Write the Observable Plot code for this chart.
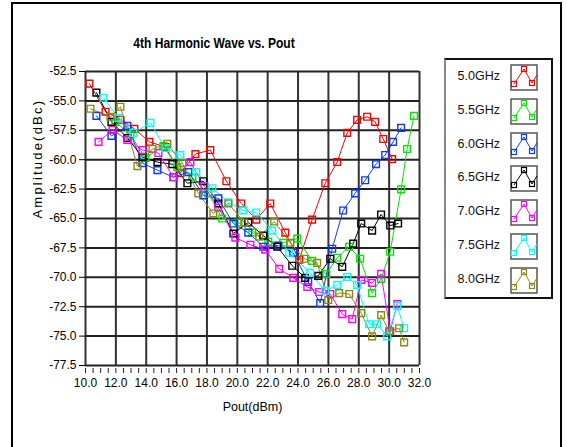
<!DOCTYPE html>
<html><head><meta charset="utf-8">
<script src="https://cdn.jsdelivr.net/npm/d3@7"></script>
<script src="https://cdn.jsdelivr.net/npm/@observablehq/plot@0.6"></script>
<style>
body{margin:0;background:#fff;font-family:"Liberation Sans",Arial,sans-serif;}
#wrap{position:relative;width:567px;height:447px;overflow:hidden;background:#fff;}
#frame{position:absolute;left:11px;top:2px;width:547px;height:470px;border:2px solid #000;}
#title{position:absolute;left:104px;width:220px;top:35px;text-align:center;font-family:"Liberation Sans",Arial,sans-serif;font-weight:bold;font-size:14.5px;color:#000;transform:scaleX(0.83);transform-origin:110px 0;}
#chart{position:absolute;left:0;top:0;}
#legend{position:absolute;left:444px;top:58px;width:105px;height:237px;border:2px solid #111;border-left-color:#888;background:#fff;}
.lg{position:absolute;left:0;width:104px;height:28px;}
.lg span{position:absolute;right:50px;top:5px;font-size:12.5px;color:#111;}
.lg svg{position:absolute;left:64px;top:0;}
</style></head>
<body>
<div id="wrap">
<div id="frame"></div>
<div id="title">4th Harmonic Wave vs. Pout</div>
<div id="chart"></div>
<div id="legend"></div>
</div>
<script>
const series = ["5.0GHz","5.5GHz","6.0GHz","6.5GHz","7.0GHz","7.5GHz","8.0GHz"];
const colors = ["#ff0000","#00e600","#1038ff","#000000","#ff00ff","#00ffff","#8a8a12"];
const xTickLabels = [10,12,14,16,18,20,22,24,26,28,30,32];
const yTickLabels = [-77.5,-75,-72.5,-70,-67.5,-65,-62.5,-60,-57.5,-55,-52.5];

const pout50 = [10.26,11.32,12.3,13.22,14.21,15.26,16.25,17.24,18.22,19.28,20.26,21.25,22.17,23.16,24.08,24.93,25.79,26.58,27.24,27.89,28.55,29.08,29.61,30.2];
const amp50  = [-53.53,-55.92,-56.6,-57.38,-58.49,-58.92,-61.15,-59.52,-59.18,-61.83,-63.72,-65.09,-63.72,-66.2,-68.51,-65.09,-62.0,-60.2,-57.72,-56.61,-56.35,-56.78,-58.24,-59.95];

const pout55 = [11.97,12.96,13.95,15.13,16.05,17.04,18.09,19.01,20.07,20.99,22.04,23.03,23.95,24.93,25.86,26.58,27.37,28.09,28.88,29.47,30.07,30.79,31.18,31.64];
const amp55  = [-56.78,-57.89,-59.86,-58.84,-60.63,-61.49,-62.86,-65.0,-65.34,-66.2,-66.97,-67.06,-66.71,-68.6,-69.71,-68.34,-67.4,-68.42,-71.34,-70.14,-67.83,-62.52,-59.09,-56.27];

const pout60 = [10.72,11.71,12.76,13.75,14.74,15.79,16.78,17.76,18.75,19.74,20.72,21.71,22.7,23.68,24.67,25.46,26.25,26.97,27.76,28.42,29.14,29.74,30.26,30.79];
const amp60  = [-56.27,-57.98,-57.12,-60.29,-60.89,-61.49,-61.06,-63.03,-63.29,-65.43,-66.2,-67.4,-67.31,-67.91,-70.39,-72.19,-67.57,-64.32,-62.86,-61.75,-60.38,-59.6,-58.49,-57.29];

const pout65 = [10.72,11.71,12.76,13.75,14.74,15.72,16.71,17.76,18.75,19.74,20.72,21.71,22.63,23.62,24.47,25.33,26.12,26.91,27.63,28.16,28.88,29.47,30.07,30.59];
const amp65  = [-54.3,-56.78,-58.15,-59.78,-60.21,-60.38,-62.0,-61.83,-63.72,-66.28,-65.34,-66.46,-67.4,-69.02,-70.05,-69.88,-68.42,-69.11,-67.14,-65.43,-66.03,-64.66,-65.6,-65.43];

const pout70 = [10.86,11.78,12.76,13.75,14.8,15.79,16.91,17.83,18.75,19.87,20.86,21.84,22.76,23.68,24.61,25.39,26.12,26.91,27.57,28.16,28.88,29.47,30.07,30.53];
const amp70  = [-58.49,-57.47,-58.32,-59.18,-59.43,-61.49,-60.21,-62.26,-64.06,-66.63,-67.23,-67.65,-69.28,-70.05,-70.82,-71.25,-71.42,-73.13,-73.56,-70.22,-70.48,-69.71,-74.59,-72.28];

const pout75 = [11.18,12.17,13.16,14.28,15.26,16.25,17.3,18.36,19.41,20.39,21.25,22.3,23.42,24.8,25.79,26.58,27.24,27.89,28.68,29.21,29.87,30.53,30.99];
const amp75  = [-54.73,-56.44,-57.72,-56.87,-59.01,-59.61,-61.06,-62.43,-63.63,-64.31,-64.49,-66.03,-67.91,-69.62,-71.16,-70.65,-69.97,-70.65,-73.99,-73.99,-75.02,-72.45,-74.33];

const pout80 = [10.33,11.64,12.3,13.42,14.41,15.39,16.38,17.43,18.42,19.41,20.46,21.45,22.43,23.49,24.41,25.26,25.99,26.71,27.37,28.16,28.88,29.47,30.0,30.66,30.99];
const amp80  = [-55.67,-56.35,-55.5,-60.55,-59.09,-58.66,-60.29,-62.86,-64.57,-63.72,-65.34,-66.54,-65.26,-67.06,-68.42,-68.77,-71.93,-71.34,-71.42,-73.05,-75.02,-73.22,-74.59,-74.33,-75.53];

const xs = [pout50,pout55,pout60,pout65,pout70,pout75,pout80];
const ys = [amp50,amp55,amp60,amp65,amp70,amp75,amp80];
const data = [];
series.forEach((s,i)=>xs[i].forEach((x,j)=>data.push({s, x, y: ys[i][j]})));

const minorX = d3.range(10, 32.001, 0.5);
const fmt = d => d.toFixed(1);

const chart = Plot.plot({
  width: 567, height: 447,
  marginLeft: 85, marginRight: 148, marginTop: 71, marginBottom: 82,
  style: {fontFamily: "Liberation Sans, Arial, sans-serif", fontSize: "12px", color: "#000", background: "transparent"},
  x: {domain: [10, 32]},
  y: {domain: [-77.5, -52.5]},
  color: {domain: series, range: colors},
  marks: [
    Plot.gridX(xTickLabels, {stroke: "#333", strokeOpacity: 1, strokeWidth: 2}),
    Plot.gridY(yTickLabels, {stroke: "#222", strokeOpacity: 1, strokeWidth: 2}),
    Plot.axisX(minorX, {tickSize: 5, tickPadding: 0, text: null, stroke: "#222", label: null, dy: 3}),
    Plot.axisX(xTickLabels, {tickSize: 0, tickPadding: 13, tickFormat: fmt, label: null, fill: "#000", fontSize: 12}),
    Plot.axisY(yTickLabels, {tickSize: 6, tickPadding: 3, tickFormat: fmt, label: null, fill: "#000", fontSize: 12, stroke: "#000"}),
    Plot.line(data, {x: "x", y: "y", z: "s", stroke: "s", strokeWidth: 1}),
    Plot.dot(data, {x: "x", y: "y", stroke: "s", symbol: "square", r: 3.8, strokeWidth: 1.4, fill: "none"}),
    Plot.text(["Pout(dBm)"], {frameAnchor: "bottom", dy: 45, fontSize: 12.5, fill: "#000"}),
    Plot.text(["Amplitude(dBc)"], {frameAnchor: "left", rotate: -90, dx: -48, fontSize: 13, fill: "#000", className: "ylab"})
  ]
});
chart.querySelectorAll(".ylab text").forEach(t => t.style.letterSpacing = "2.2px");
document.getElementById("chart").appendChild(chart);

// legend
const lg = document.getElementById("legend");
const ns = "http://www.w3.org/2000/svg";
series.forEach((s,i)=>{
  const row = document.createElement("div");
  row.className = "lg";
  row.style.top = (4 + i*33.8) + "px";
  const sp = document.createElement("span");
  sp.textContent = s;
  row.appendChild(sp);
  const svg = document.createElementNS(ns,"svg");
  svg.setAttribute("width","28"); svg.setAttribute("height","27");
  const r = document.createElementNS(ns,"rect");
  r.setAttribute("x","1"); r.setAttribute("y","1"); r.setAttribute("width","26"); r.setAttribute("height","25");
  r.setAttribute("fill","#fff"); r.setAttribute("stroke","#555"); r.setAttribute("stroke-width","1.5");
  svg.appendChild(r);
  const pl = document.createElementNS(ns,"polyline");
  pl.setAttribute("points","4,20 14,5 22,19 27,11");
  pl.setAttribute("fill","none"); pl.setAttribute("stroke",colors[i]); pl.setAttribute("stroke-width","1");
  svg.appendChild(pl);
  [[4,20],[14,5],[22,19]].forEach(([cx,cy])=>{
    const q = document.createElementNS(ns,"rect");
    q.setAttribute("x",cx-2.5); q.setAttribute("y",cy-2.5); q.setAttribute("width","5"); q.setAttribute("height","5");
    q.setAttribute("fill","none"); q.setAttribute("stroke",colors[i]); q.setAttribute("stroke-width","1.2");
    svg.appendChild(q);
  });
  row.appendChild(svg);
  lg.appendChild(row);
});
</script>
</body></html>
